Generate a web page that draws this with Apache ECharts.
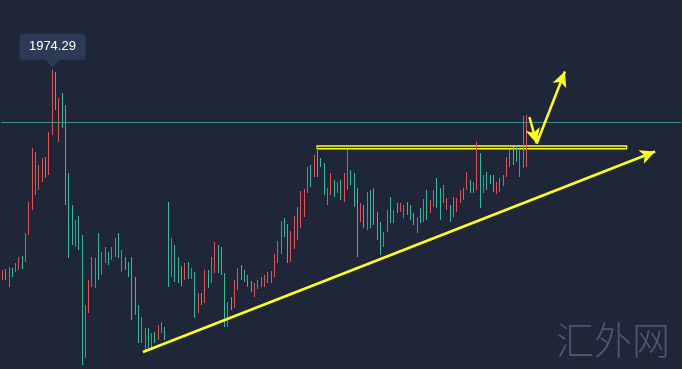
<!DOCTYPE html>
<html>
<head>
<meta charset="utf-8">
<script src="https://cdn.jsdelivr.net/npm/echarts@6/dist/echarts.min.js"></script>
<style>
html,body{margin:0;padding:0;background:#1e2638;}
#c{width:682px;height:369px;}
</style>
</head>
<body>
<div id="c"></div>
<script>
// category slots (data occupies the first 160, the rest is empty space on the right)
const categories = Array.from({length: 205}, (_, i) => String(i));

// [open, close, low, high]
const ohlc = [
[1766,1772,1764,1774],[1773,1766,1764,1775],[1760,1774,1757,1777],[1775,1769,1767,1776],[1773,1780,1772,1781],
[1776,1785,1774,1787],[1786,1777,1775,1788],[1784,1808,1782,1811],[1811,1838,1809,1842],[1838,1890,1834,1896],
[1852,1888,1849,1892],[1856,1876,1854,1879],[1864,1883,1862,1886],[1885,1868,1866,1887],[1872,1908,1869,1912],
[1912,1966,1909,1974.29],[1968,1937,1934,1972],[1905,1942,1902,1946],[1948,1919,1916,1951],[1935,1843,1839,1939],
[1868,1790,1786,1871],[1836,1802,1799,1839],[1799,1821,1797,1824],[1825,1797,1794,1828],[1805,1684,1679,1809],
[1689,1735,1686,1739],[1734,1761,1731,1764],[1760,1784,1757,1787],[1759,1783,1756,1786],[1807,1767,1764,1811],
[1771,1789,1769,1792],[1783,1795,1781,1797],[1790,1781,1779,1792],[1786,1795,1784,1797],[1789,1803,1787,1806],
[1808,1789,1786,1811],[1774,1791,1772,1794],[1785,1776,1774,1787],[1780,1769,1767,1782],[1783,1728,1724,1787],
[1764,1732,1729,1767],[1736,1704,1701,1739],[1703,1724,1701,1727],[1696,1713,1694,1716],[1714,1698,1696,1716],
[1698,1709,1696,1711],[1710,1703,1701,1712],[1706,1717,1704,1719],[1712,1720,1711,1722],[1715,1706,1704,1717],
[1838,1762,1757,1842],[1770,1802,1767,1806],[1796,1765,1762,1799],[1785,1764,1761,1787],[1776,1761,1758,1778],
[1766,1779,1764,1781],[1780,1767,1765,1782],[1767,1774,1765,1776],[1769,1730,1726,1772],[1733,1748,1731,1751],
[1749,1741,1739,1751],[1744,1771,1741,1774],[1772,1758,1756,1774],[1764,1784,1761,1787],[1774,1799,1771,1802],
[1796,1774,1771,1799],[1794,1772,1769,1797],[1768,1721,1717,1771],[1720,1739,1717,1742],[1745,1736,1734,1747],
[1739,1761,1736,1764],[1756,1773,1754,1776],[1777,1766,1764,1779],[1772,1764,1762,1774],[1767,1759,1757,1769],
[1761,1754,1752,1763],[1749,1759,1747,1761],[1756,1762,1755,1764],[1758,1765,1757,1767],[1759,1767,1757,1769],
[1762,1770,1761,1772],[1763,1771,1761,1773],[1769,1787,1767,1790],[1783,1800,1781,1803],[1793,1820,1790,1823],
[1824,1809,1807,1826],[1817,1784,1781,1820],[1785,1810,1782,1813],[1798,1825,1795,1828],[1807,1834,1804,1837],
[1819,1850,1816,1853],[1829,1852,1827,1855],[1853,1874,1851,1877],[1877,1859,1857,1879],[1869,1886,1867,1889],
[1893,1870,1867,1897],[1884,1879,1877,1886],[1878,1852,1849,1881],[1841,1854,1839,1856],[1851,1868,1849,1871],
[1862,1849,1847,1864],[1852,1860,1851,1862],[1862,1846,1844,1864],[1845,1868,1842,1871],[1857,1890,1854,1894],
[1872,1861,1859,1874],[1868,1840,1837,1871],[1852,1792,1787,1856],[1824,1839,1822,1841],[1837,1818,1816,1839],
[1817,1849,1814,1852],[1851,1819,1816,1854],[1853,1822,1819,1856],[1829,1807,1804,1832],[1819,1792,1789,1822],
[1799,1810,1797,1812],[1814,1831,1812,1834],[1844,1824,1821,1847],[1823,1832,1821,1834],[1839,1833,1831,1841],
[1833,1839,1832,1841],[1828,1837,1826,1839],[1840,1831,1829,1842],[1837,1826,1824,1839],[1829,1821,1819,1831],
[1813,1825,1811,1827],[1834,1823,1821,1836],[1824,1842,1822,1845],[1851,1827,1824,1854],[1833,1842,1831,1844],
[1839,1852,1837,1854],[1863,1839,1836,1866],[1853,1827,1824,1856],[1843,1857,1841,1859],[1836,1844,1834,1846],
[1837,1824,1822,1839],[1829,1845,1827,1847],[1834,1844,1832,1846],[1843,1852,1841,1854],[1846,1854,1844,1856],
[1856,1870,1854,1872],[1862,1853,1851,1864],[1853,1860,1851,1862],[1857,1896,1854,1902],[1887,1840,1836,1891],
[1853,1867,1851,1869],[1870,1856,1854,1872],[1867,1862,1860,1869],[1866,1854,1852,1869],[1851,1860,1850,1862],
[1854,1864,1852,1866],[1859,1867,1858,1869],[1869,1884,1867,1887],[1879,1892,1877,1894],[1895,1881,1879,1897],
[1897,1884,1882,1899],[1870,1890,1867,1894],[1879,1924,1876,1928],[1880,1925,1877,1929],[1926,1922,1921,1927]
];

const lastPrice = 1922;
// annotations: [slot position, price]
const trendLine = [[42.3, 1692], [196.7, 1892.5]];
const rangeBox = [[94.8, 1898], [188.1, 1895.3]];
const vArrowDown = [[158.8, 1927], [161.0, 1900.5]];
const vArrowUp = [[161.0, 1900.5], [169.5, 1972.5]];

const UP = '#de5458', DOWN = '#38b898', YEL = '#ffff1e';
const chart = echarts.init(document.getElementById('c'), null, {renderer: 'canvas'});

const pin = 'path://M3,0 H63 Q66,0 66,3 V23 Q66,26 63,26 H40 L33,34 L26,26 H3 Q0,26 0,23 V3 Q0,0 3,0 Z';

function seg(a, b, s0, s1) {
  return [{coord: a, symbol: s0}, {coord: b, symbol: s1}];
}

chart.setOption({
  backgroundColor: '#1e2638',
  animation: false,
  grid: {left: 1, right: 1, top: 0, bottom: 0},
  xAxis: [
    {type: 'category', data: categories, show: false, boundaryGap: true},
    {type: 'value', min: -0.5, max: 204.5, show: false}
  ],
  yAxis: {type: 'value', min: 1675, max: 2044, show: false, scale: true},
  series: [
    {
      type: 'candlestick',
      data: ohlc,
      barWidth: 1.2,
      itemStyle: {color: UP, color0: DOWN, borderColor: UP, borderColor0: DOWN, borderWidth: 1},
      markLine: {
        silent: true,
        symbol: 'none',
        label: {show: false},
        lineStyle: {color: '#3f8f86', width: 1, type: 'solid'},
        data: [{yAxis: lastPrice}]
      },
      markPoint: {
        silent: true,
        symbol: pin,
        symbolSize: [66, 34],
        symbolOffset: [0, -19],
        itemStyle: {color: '#2d3a55'},
        label: {show: true, color: '#ffffff', fontSize: 13, fontFamily: 'Liberation Sans, Arial, sans-serif',
                offset: [0, -4], formatter: p => p.value.toFixed(2)},
        data: [{type: 'max', valueDim: 'highest'}]
      }
    },
    {
      type: 'line',
      xAxisIndex: 1,
      data: [],
      markLine: {
        silent: true,
        symbolSize: [11, 15],
        label: {show: false},
        lineStyle: {color: YEL, width: 2.5, type: 'solid'},
        data: [
          seg(trendLine[0], trendLine[1], 'none', 'arrow'),
          seg(vArrowDown[0], vArrowDown[1], 'none', 'arrow'),
          seg(vArrowUp[0], vArrowUp[1], 'none', 'arrow')
        ]
      },
      markArea: {
        silent: true,
        itemStyle: {color: 'rgba(0,0,0,0)', borderColor: YEL, borderWidth: 1.4},
        data: [[{coord: rangeBox[0]}, {coord: rangeBox[1]}]]
      }
    }
  ],
  graphic: [{
    type: 'text', right: 12, bottom: 10,
    style: {text: '汇外网', fill: '#4c566c', font: '300 38px "Noto Sans CJK SC"'}
  }]
});
</script>
</body>
</html>
